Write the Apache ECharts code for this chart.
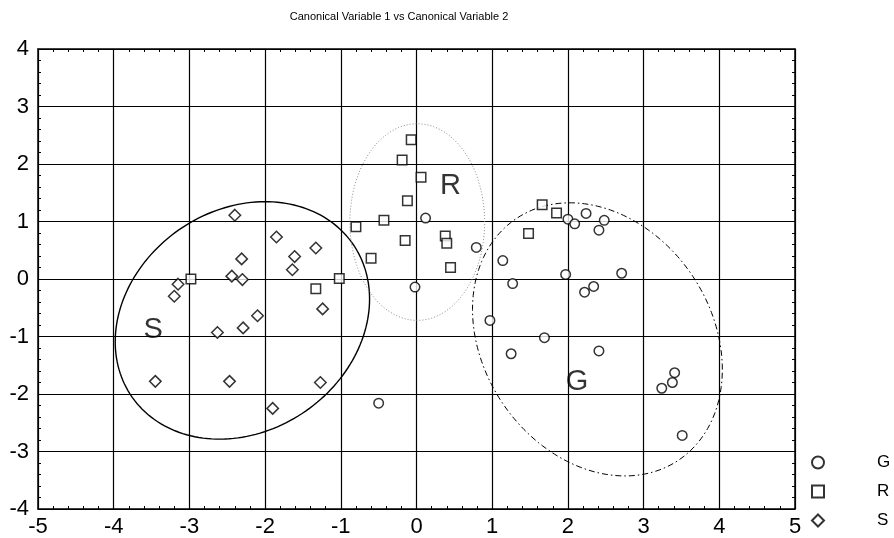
<!DOCTYPE html>
<html>
<head>
<meta charset="utf-8">
<script src="https://cdn.jsdelivr.net/npm/echarts@6/dist/echarts.min.js"></script>
<style>
  html, body { margin: 0; padding: 0; background: #fff; }
  #chart { width: 894px; height: 538px; }
</style>
</head>
<body>
<div id="chart"></div>
<script>
// Canonical scores per group: [root 1, root 2]
const groupG = [
  [0.12, 1.06], [0.79, 0.55], [1.14, 0.32], [1.27, -0.08], [-0.02, -0.14],
  [2.00, 1.04], [2.09, 0.96], [2.24, 1.14], [2.48, 1.02], [2.41, 0.85],
  [1.97, 0.08], [2.71, 0.10], [2.34, -0.13], [2.22, -0.23], [0.97, -0.72],
  [1.69, -1.02], [1.25, -1.30], [2.41, -1.25], [3.41, -1.63], [3.38, -1.80],
  [3.24, -1.90], [3.51, -2.72], [-0.50, -2.16]
];
const groupR = [
  [-2.98, 0.00], [-1.02, 0.01], [-1.33, -0.17], [-0.80, 0.91], [-0.60, 0.36],
  [-0.07, 2.42], [-0.19, 2.07], [0.06, 1.77], [-0.12, 1.36], [-0.43, 1.02],
  [-0.15, 0.67], [0.38, 0.75], [0.40, 0.62], [0.45, 0.20], [1.48, 0.79],
  [1.66, 1.29], [1.85, 1.15]
];
const groupS = [
  [-2.40, 1.11], [-1.85, 0.73], [-1.33, 0.54], [-1.61, 0.39], [-1.64, 0.16],
  [-2.31, 0.35], [-2.44, 0.05], [-2.30, -0.01], [-3.15, -0.09], [-3.20, -0.30],
  [-2.10, -0.64], [-2.29, -0.85], [-2.63, -0.93], [-1.24, -0.52], [-3.45, -1.78],
  [-2.47, -1.78], [-1.27, -1.80], [-1.90, -2.25]
];

// Group ellipses: centre, half-extent along each axis, and x-y coupling (cosine of phase)
const ellipseGroups = ['S', 'R', 'G'];
const ellipseCx = [-2.30, 0.01, 2.39];
const ellipseCy = [-0.72, 0.99, -1.05];
const ellipseRx = [1.68, 0.89, 1.65];
const ellipseRy = [2.065, 1.71, 2.375];
const ellipseCoupling = [0.18, 0.0, -0.22];

// Group name labels placed in the plot
const labelNames = ['S', 'R', 'G'];
const labelX = [-3.48, 0.45, 2.12];
const labelY = [-0.88, 1.62, -1.79];

// Axis ranges
const xRange = [-5, 5];
const yRange = [-4, 4];

const FONT = "'Liberation Sans', Arial, sans-serif";
const ellipseStyles = {
  S: { stroke: '#000', lineWidth: 1.4, lineDash: null },
  R: { stroke: '#8a8a8a', lineWidth: 1, lineDash: [1, 2] },
  G: { stroke: '#000', lineWidth: 1, lineDash: [6, 3, 1.5, 3] }
};

const chart = echarts.init(document.getElementById('chart'), null, { renderer: 'canvas' });

const markerStyle = { color: '#fff', borderColor: '#000', borderWidth: 1.5 };

function frameAxis(pos, range) {
  return {
    type: 'value', position: pos, min: range[0], max: range[1], interval: 1,
    axisLine: { show: true, onZero: false, lineStyle: { color: '#000', width: 1.5 } },
    axisTick: { show: true, inside: true, length: 5, lineStyle: { color: '#000', width: 1 } },
    minorTick: { show: true, splitNumber: 5, length: 3, lineStyle: { color: '#000', width: 1 } },
    axisLabel: { show: false },
    splitLine: { show: false }
  };
}

function mainAxis(pos, range, margin) {
  return {
    type: 'value', position: pos, min: range[0], max: range[1], interval: 1,
    axisLine: { show: true, onZero: false, lineStyle: { color: '#000', width: 1.5 } },
    axisTick: { show: true, inside: true, length: 5, lineStyle: { color: '#000' } },
    minorTick: { show: true, splitNumber: 5, length: 3, lineStyle: { color: '#000' } },
    axisLabel: { fontFamily: FONT, fontSize: 22, color: '#000', margin: margin },
    splitLine: { show: true, lineStyle: { color: '#000', width: 1.2 } }
  };
}

const ellipseData = ellipseGroups.map((g, i) =>
  [ellipseCx[i], ellipseCy[i], ellipseRx[i], ellipseRy[i], ellipseCoupling[i], i]);

const option = {
  animation: false,
  backgroundColor: '#fff',
  title: {
    text: 'Canonical Variable 1 vs Canonical Variable 2',
    left: 394, top: 6, textAlign: 'center',
    textStyle: { fontFamily: FONT, fontSize: 11, fontWeight: 'normal', color: '#000' }
  },
  grid: { left: 38, right: 99, top: 49, bottom: 27, show: false },
  legend: {
    orient: 'vertical', left: 806, top: 449, padding: 5,
    itemWidth: 12, itemHeight: 12, itemGap: 12,
    data: [
      { name: 'G', icon: 'circle' },
      { name: 'R', icon: 'rect' },
      { name: 'S', icon: 'diamond' }
    ],
    formatter: name => '{gap|}{txt|' + name + '}',
    textStyle: {
      fontFamily: FONT, fontSize: 16, color: '#000', lineHeight: 16,
      rich: {
        gap: { width: 48 },
        txt: { fontFamily: FONT, fontSize: 17, color: '#000', lineHeight: 16 }
      }
    },
    selectedMode: false
  },
  xAxis: [mainAxis('bottom', xRange, 7), frameAxis('top', xRange)],
  yAxis: [mainAxis('left', yRange, 9), frameAxis('right', yRange)],
  series: [
    {
      type: 'custom', name: 'ellipses', silent: true, z: 3,
      renderItem: function (params, api) {
        const cx = api.value(0), cy = api.value(1);
        const rx = api.value(2), ry = api.value(3);
        const phase = Math.acos(api.value(4));
        const style = ellipseStyles[ellipseGroups[api.value(5)]];
        const pts = [];
        const n = 180;
        for (let k = 0; k <= n; k++) {
          const t = 2 * Math.PI * k / n;
          pts.push(api.coord([cx + rx * Math.cos(t), cy + ry * Math.cos(t - phase)]));
        }
        return {
          type: 'polyline',
          shape: { points: pts },
          style: { stroke: style.stroke, lineWidth: style.lineWidth, lineDash: style.lineDash, fill: null }
        };
      },
      encode: { x: 0, y: 1 },
      data: ellipseData
    },
    {
      type: 'scatter', name: 'G', symbol: 'circle', symbolSize: 9.5, z: 4,
      itemStyle: markerStyle, data: groupG
    },
    {
      type: 'scatter', name: 'R', symbol: 'rect', symbolSize: 9.5, z: 4,
      itemStyle: markerStyle, data: groupR
    },
    {
      type: 'scatter', name: 'S', symbol: 'diamond', symbolSize: 11.5, z: 4,
      itemStyle: markerStyle, data: groupS
    },
    {
      type: 'scatter', name: 'group labels', symbolSize: 0, silent: true, z: 5,
      label: {
        show: true, position: 'inside', fontFamily: FONT, fontSize: 29, color: '#000',
        formatter: p => p.data[2]
      },
      data: labelNames.map((n, i) => [labelX[i], labelY[i], n])
    }
  ]
};

chart.setOption(option);
</script>
</body>
</html>
